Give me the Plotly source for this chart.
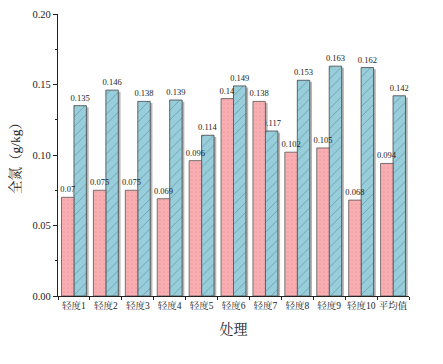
import plotly.graph_objects as go

categories = ["轻度1", "轻度2", "轻度3", "轻度4", "轻度5", "轻度6", "轻度7", "轻度8", "轻度9", "轻度10", "平均值"]
series_a = [0.07, 0.075, 0.075, 0.069, 0.096, 0.14, 0.138, 0.102, 0.105, 0.068, 0.094]
series_b = [0.135, 0.146, 0.138, 0.139, 0.114, 0.149, 0.117, 0.153, 0.163, 0.162, 0.142]
labels_a = ["0.07", "0.075", "0.075", "0.069", "0.096", "0.14", "0.138", "0.102", "0.105", "0.068", "0.094"]
labels_b = ["0.135", "0.146", "0.138", "0.139", "0.114", "0.149", "0.117", "0.153", "0.163", "0.162", "0.142"]

FONT = "Liberation Serif, Noto Serif CJK SC, Noto Sans CJK SC, serif"
W = 0.39
SH = 0.07  # shadow offset in category units
DROP = 0.0012

fig = go.Figure()
# shadows
for vals, off in [(series_a, -W), (series_b, 0)]:
    fig.add_trace(go.Bar(
        x=categories, y=[v - DROP for v in vals], width=W, offset=off + SH,
        marker=dict(color="#b5b5b5", line=dict(width=0)),
        hoverinfo="skip", showlegend=False))

fig.add_trace(go.Bar(
    x=categories, y=series_b, width=W, offset=0,
    marker=dict(color="#98CEDB", line=dict(color="#444444", width=0.8),
                pattern=dict(shape="/", fgcolor="#3d6670", bgcolor="#98CEDB", size=7, solidity=0.12)),
    text=labels_b, textposition="outside", cliponaxis=False, textangle=0, constraintext="none",
    textfont=dict(family=FONT, size=8.5, color="#222"), showlegend=False))
fig.add_trace(go.Bar(
    x=categories, y=series_a, width=W, offset=-W,
    marker=dict(color="#F9AEB2", line=dict(color="#555555", width=0.8),
                pattern=dict(shape=".", fgcolor="#d98a8e", bgcolor="#F9AEB2", size=4, solidity=0.15)),
    text=labels_a, textposition="outside", cliponaxis=False, textangle=0, constraintext="none",
    textfont=dict(family=FONT, size=8.5, color="#222"), showlegend=False))

fig.update_layout(
    width=435, height=356,
    margin=dict(l=50, r=34, t=6, b=68),
    barmode="overlay",
    plot_bgcolor="white", paper_bgcolor="white",
    font=dict(family=FONT, size=10, color="#222"),
)
fig.update_xaxes(
    automargin=False, tickangle=0,
    showline=True, linecolor="#222", linewidth=1.2, mirror=False,
    ticks="outside", tickson="boundaries", ticklen=3, tickcolor="#222",
    showgrid=False, tickfont=dict(family=FONT, size=9.5),
    title=dict(text="处理", font=dict(family=FONT, size=14), standoff=14),
)
fig.update_yaxes(
    automargin=False,
    range=[0, 0.2], tickvals=[0, 0.05, 0.1, 0.15, 0.2], tickformat=".2f",
    showline=True, linecolor="#222", linewidth=1.2,
    ticks="outside", ticklen=4, tickcolor="#222",
    minor=dict(tickvals=[0.025, 0.075, 0.125, 0.175], ticks="outside", ticklen=2, tickcolor="#222"),
    showgrid=False, zeroline=False, tickfont=dict(family=FONT, size=10.5),
    title=dict(text="全氮（g/kg）", font=dict(family=FONT, size=13.5), standoff=12),
)

fig.write_html("out.html")
